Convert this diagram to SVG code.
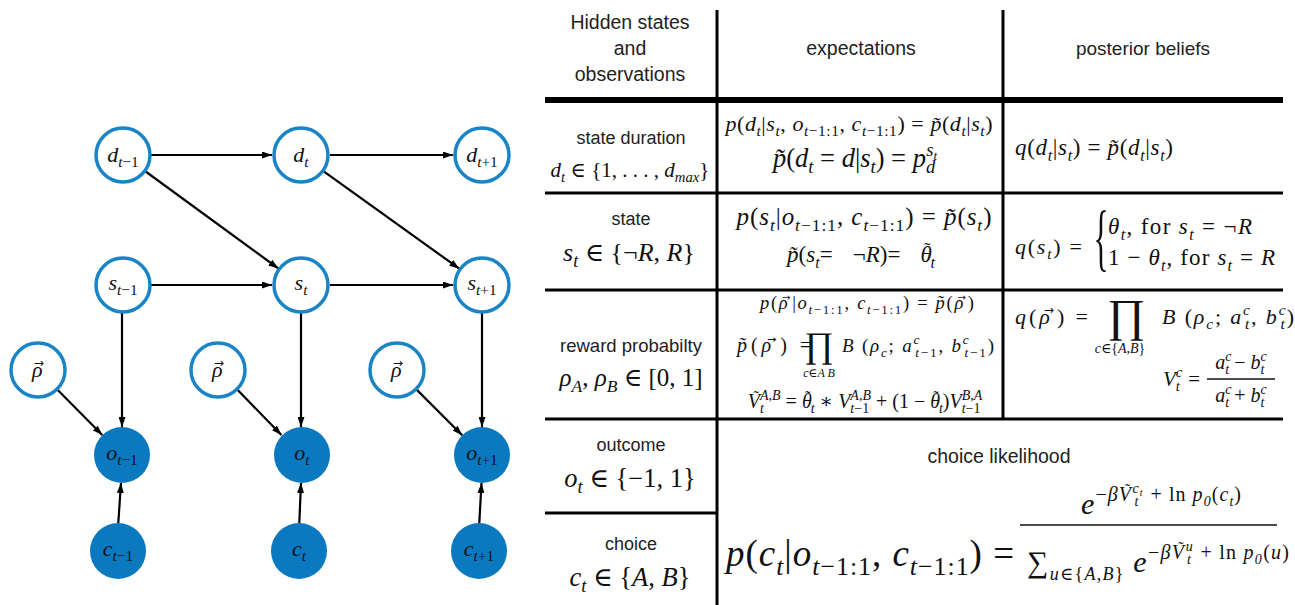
<svg xmlns="http://www.w3.org/2000/svg" width="1295" height="605" viewBox="0 0 1295 605">
<style>
.bg{fill:#fff}
.open{fill:#fff;stroke:#1a85c6;stroke-width:3.5}
.filled{fill:#0a79c0}
.edge{stroke:#000;stroke-width:2.2;fill:none;marker-end:url(#ah)}
.nl{font-family:"Liberation Serif","DejaVu Serif",serif;font-style:italic;font-size:22px;fill:#111;text-anchor:middle}
.m{font-family:"Liberation Serif","DejaVu Serif",serif;font-style:italic;fill:#111}
.u{font-style:normal}
.sb{font-size:70%;baseline-shift:-0.35em}
.sp{font-size:70%;baseline-shift:0.6em}
.ar{font-family:"DejaVu Sans",sans-serif;font-style:normal;font-size:55%;baseline-shift:0.8em}
.tl{font-family:"Liberation Serif",serif;font-style:normal;font-size:80%;baseline-shift:0.35em}
.s{font-family:"Liberation Sans",Arial,sans-serif;fill:#222;text-anchor:middle}
.grid{stroke:#000;stroke-width:3;fill:none}
.thick{stroke:#000;stroke-width:6;fill:none}
.mid{text-anchor:middle}
</style>
<defs>
<marker id="ah" markerUnits="userSpaceOnUse" viewBox="0 0 10 7" refX="10" refY="3.5" markerWidth="10" markerHeight="7" orient="auto">
<path d="M0,0 L10,3.5 L0,7 z" fill="#000"/>
</marker>
</defs>
<rect class="bg" x="0" y="0" width="1295" height="605"/>

<g id="connectors">
<line class="edge" x1="151" y1="155" x2="272" y2="155"/>
<line class="edge" x1="330" y1="155" x2="453" y2="155"/>
<line class="edge" x1="151" y1="285" x2="272" y2="285"/>
<line class="edge" x1="330" y1="285" x2="453" y2="285"/>
<line class="edge" x1="145.6" y1="171.5" x2="278.4" y2="268.5"/>
<line class="edge" x1="323.7" y1="171.3" x2="459.3" y2="268.7"/>
<line class="edge" x1="122" y1="313" x2="122" y2="427"/>
<line class="edge" x1="301" y1="313" x2="301" y2="427"/>
<line class="edge" x1="482" y1="313" x2="482" y2="427"/>
<line class="edge" x1="57" y1="389.2" x2="102.3" y2="435.1"/>
<line class="edge" x1="237" y1="389.2" x2="281.4" y2="435"/>
<line class="edge" x1="416.1" y1="389.1" x2="462.2" y2="435.2"/>
<line class="edge" x1="118.3" y1="523" x2="121" y2="483"/>
<line class="edge" x1="299.3" y1="523" x2="301" y2="483"/>
<line class="edge" x1="479.3" y1="523" x2="481.5" y2="483"/>
</g>

<g id="n_d_tm1"><circle class="open" cx="123" cy="155" r="27"/><text class="nl" x="123" y="162">d<tspan class="sb">t<tspan class="u">−1</tspan></tspan></text></g>
<g id="n_d_t"><circle class="open" cx="301" cy="155" r="27"/><text class="nl" x="301" y="162">d<tspan class="sb">t</tspan></text></g>
<g id="n_d_tp1"><circle class="open" cx="482" cy="155" r="27"/><text class="nl" x="482" y="162">d<tspan class="sb">t<tspan class="u">+1</tspan></tspan></text></g>
<g id="n_s_tm1"><circle class="open" cx="123" cy="285" r="27"/><text class="nl" x="123" y="290">s<tspan class="sb">t<tspan class="u">−1</tspan></tspan></text></g>
<g id="n_s_t"><circle class="open" cx="301" cy="285" r="27"/><text class="nl" x="301" y="290">s<tspan class="sb">t</tspan></text></g>
<g id="n_s_tp1"><circle class="open" cx="482" cy="285" r="27"/><text class="nl" x="482" y="290">s<tspan class="sb">t<tspan class="u">+1</tspan></tspan></text></g>
<g id="n_rho1"><circle class="open" cx="38" cy="370" r="27"/><text class="nl" x="38" y="377">ρ<tspan class="ar" dx="-8.8">→</tspan></text></g>
<g id="n_rho2"><circle class="open" cx="218" cy="370" r="27"/><text class="nl" x="218" y="377">ρ<tspan class="ar" dx="-8.8">→</tspan></text></g>
<g id="n_rho3"><circle class="open" cx="397" cy="370" r="27"/><text class="nl" x="397" y="377">ρ<tspan class="ar" dx="-8.8">→</tspan></text></g>
<g id="n_o_tm1"><circle class="filled" cx="122" cy="455" r="28"/><text class="nl" x="122" y="460">o<tspan class="sb">t<tspan class="u">−1</tspan></tspan></text></g>
<g id="n_o_t"><circle class="filled" cx="302" cy="455" r="28"/><text class="nl" x="302" y="460">o<tspan class="sb">t</tspan></text></g>
<g id="n_o_tp1"><circle class="filled" cx="482" cy="455" r="28"/><text class="nl" x="482" y="460">o<tspan class="sb">t<tspan class="u">+1</tspan></tspan></text></g>
<g id="n_c_tm1"><circle class="filled" cx="118" cy="551" r="28"/><text class="nl" x="118" y="556">c<tspan class="sb">t<tspan class="u">−1</tspan></tspan></text></g>
<g id="n_c_t"><circle class="filled" cx="299" cy="551" r="28"/><text class="nl" x="299" y="556">c<tspan class="sb">t</tspan></text></g>
<g id="n_c_tp1"><circle class="filled" cx="479" cy="551" r="28"/><text class="nl" x="479" y="556">c<tspan class="sb">t<tspan class="u">+1</tspan></tspan></text></g>

<g id="table">
<line class="grid" x1="717" y1="10" x2="717" y2="605"/>
<line class="grid" x1="1003" y1="10" x2="1003" y2="419"/>
<line class="thick" x1="545" y1="100" x2="1283" y2="100"/>
<line class="grid" x1="545" y1="193" x2="1283" y2="193"/>
<line class="grid" x1="545" y1="290" x2="1283" y2="290"/>
<line class="grid" x1="545" y1="419" x2="1283" y2="419"/>
<line class="grid" x1="545" y1="513" x2="717" y2="513"/>
</g>

<g id="header">
<text class="s" x="630" y="29" font-size="19.5">Hidden states</text>
<text class="s" x="630" y="55" font-size="19.5">and</text>
<text class="s" x="630" y="81" font-size="19.5">observations</text>
<text class="s" x="861" y="55" font-size="19.5">expectations</text>
<text class="s" x="1143" y="55" font-size="19">posterior beliefs</text>
</g>

<g id="row_duration">
<text class="s" x="631" y="144" font-size="18">state duration</text>
<text class="m mid" x="630" y="177" font-size="21">d<tspan class="sb">t</tspan><tspan class="u"> ∈ {1, . . . , </tspan>d<tspan class="sb">max</tspan><tspan class="u">}</tspan></text>
<text class="m mid" x="859" y="131" font-size="22" textLength="267" lengthAdjust="spacing">p<tspan class="u">(</tspan>d<tspan class="sb">t</tspan><tspan class="u">|</tspan>s<tspan class="sb">t</tspan><tspan class="u">, </tspan>o<tspan class="sb">t<tspan class="u">−1:1</tspan></tspan><tspan class="u">, </tspan>c<tspan class="sb">t<tspan class="u">−1:1</tspan></tspan><tspan class="u">) = </tspan>p̃<tspan class="u">(</tspan>d<tspan class="sb">t</tspan><tspan class="u">|</tspan>s<tspan class="sb">t</tspan><tspan class="u">)</tspan></text>
<text class="m mid" x="855" y="167" font-size="26.5">p̃<tspan class="u">(</tspan>d<tspan class="sb">t</tspan><tspan class="u"> = </tspan>d<tspan class="u">|</tspan>s<tspan class="sb">t</tspan><tspan class="u">) = </tspan>p<tspan class="sb">d</tspan><tspan class="sp" dx="-9">s<tspan class="sb">t</tspan></tspan></text>
<text class="m" x="1015" y="155" font-size="23" textLength="158" lengthAdjust="spacing">q<tspan class="u">(</tspan>d<tspan class="sb">t</tspan><tspan class="u">|</tspan>s<tspan class="sb">t</tspan><tspan class="u">) = </tspan>p̃<tspan class="u">(</tspan>d<tspan class="sb">t</tspan><tspan class="u">|</tspan>s<tspan class="sb">t</tspan><tspan class="u">)</tspan></text>
</g>

<g id="row_state">
<text class="s" x="631" y="225" font-size="18">state</text>
<text class="m mid" x="629" y="261" font-size="26">s<tspan class="sb">t</tspan><tspan class="u"> ∈ {¬</tspan>R<tspan class="u">, </tspan>R<tspan class="u">}</tspan></text>
<text class="m mid" x="864" y="225" font-size="25" textLength="255" lengthAdjust="spacing">p<tspan class="u">(</tspan>s<tspan class="sb">t</tspan><tspan class="u">|</tspan>o<tspan class="sb">t<tspan class="u">−1:1</tspan></tspan><tspan class="u">, </tspan>c<tspan class="sb">t<tspan class="u">−1:1</tspan></tspan><tspan class="u">) = </tspan>p̃<tspan class="u">(</tspan>s<tspan class="sb">t</tspan><tspan class="u">)</tspan></text>
<text class="m mid" x="861" y="262" font-size="23">p̃<tspan class="u">(</tspan>s<tspan class="sb">t</tspan><tspan class="u">=</tspan><tspan class="u" dx="20">¬</tspan>R<tspan class="u">)=</tspan><tspan dx="20">θ</tspan><tspan class="tl" dx="-7.4">˜</tspan><tspan class="sb">t</tspan></text>
<text class="m" x="1015" y="254" font-size="22" textLength="67" lengthAdjust="spacing">q<tspan class="u">(</tspan>s<tspan class="sb">t</tspan><tspan class="u">) =</tspan></text>
<text class="m u" transform="translate(1101,262) scale(0.42,1)" font-size="75" text-anchor="middle" style="font-style:normal">{</text>
<text class="m" x="1108" y="234" font-size="23" textLength="144" lengthAdjust="spacing">θ<tspan class="sb">t</tspan><tspan class="u">, for </tspan>s<tspan class="sb">t</tspan><tspan class="u"> = ¬</tspan>R</text>
<text class="m" x="1108" y="265" font-size="23" textLength="167" lengthAdjust="spacing"><tspan class="u">1 − </tspan>θ<tspan class="sb">t</tspan><tspan class="u">, for </tspan>s<tspan class="sb">t</tspan><tspan class="u"> = </tspan>R</text>
</g>

<g id="row_reward">
<text class="s" x="631" y="352" font-size="18.5">reward probabilty</text>
<text class="m mid" x="631" y="386" font-size="25">ρ<tspan class="sb">A</tspan><tspan class="u">, </tspan>ρ<tspan class="sb">B</tspan><tspan class="u"> ∈ [0, 1]</tspan></text>
<text class="m mid" x="867" y="309" font-size="18.5" textLength="214" lengthAdjust="spacing">p<tspan class="u">(</tspan>ρ<tspan class="ar" dx="-7.4">→</tspan><tspan class="u">|</tspan>o<tspan class="sb">t<tspan class="u">−1:1</tspan></tspan><tspan class="u">, </tspan>c<tspan class="sb">t<tspan class="u">−1:1</tspan></tspan><tspan class="u">) = </tspan>p̃<tspan class="u">(</tspan>ρ<tspan class="ar" dx="-7.4">→</tspan><tspan class="u">)</tspan></text>
<text class="m" x="737" y="352" font-size="20" textLength="74" lengthAdjust="spacing">p̃<tspan class="u">(</tspan>ρ<tspan class="ar" dx="-8">→</tspan><tspan class="u">) =</tspan></text>
<text class="m u" x="819" y="357" font-size="36" text-anchor="middle" style="font-style:normal">∏</text>
<text class="m mid" x="819" y="377" font-size="12">c<tspan class="u">∈</tspan>A  B</text>
<text class="m" x="842" y="352" font-size="19" textLength="152" lengthAdjust="spacing">B <tspan class="u">(</tspan>ρ<tspan class="sb">c</tspan><tspan class="u">; </tspan>a<tspan class="sp">c</tspan><tspan class="sb" dx="-5.9">t<tspan class="u">−1</tspan></tspan><tspan class="u">, </tspan>b<tspan class="sp">c</tspan><tspan class="sb" dx="-5.9">t<tspan class="u">−1</tspan></tspan><tspan class="u">)</tspan></text>
<text class="m mid" x="865" y="408" font-size="20">V<tspan class="tl" dx="-6.2">˜</tspan><tspan class="sb" dx="1">t</tspan><tspan class="sp" dx="-3.9">A,B</tspan><tspan class="u"> = </tspan>θ<tspan class="tl" dx="-6.4">˜</tspan><tspan class="sb">t</tspan><tspan class="u"> ∗ </tspan>V<tspan class="sb">t<tspan class="u">−1</tspan></tspan><tspan class="sp" dx="-18.8">A,B</tspan><tspan class="u"> + (1 − </tspan>θ<tspan class="tl" dx="-6.4">˜</tspan><tspan class="sb">t</tspan><tspan class="u">)</tspan>V<tspan class="sb">t<tspan class="u">−1</tspan></tspan><tspan class="sp" dx="-18.8">B,A</tspan></text>
<text class="m" x="1015" y="324" font-size="22" textLength="73" lengthAdjust="spacing">q<tspan class="u">(</tspan>ρ<tspan class="ar" dx="-8.8">→</tspan><tspan class="u">) =</tspan></text>
<text class="m u" x="1126" y="331" font-size="46" text-anchor="middle" style="font-style:normal">∏</text>
<text class="m mid" x="1120" y="353" font-size="14">c<tspan class="u">∈{</tspan>A<tspan class="u">,</tspan>B<tspan class="u">}</tspan></text>
<text class="m" x="1162" y="324" font-size="22" textLength="132" lengthAdjust="spacing">B <tspan class="u">(</tspan>ρ<tspan class="sb">c</tspan><tspan class="u">; </tspan>a<tspan class="sp">c</tspan><tspan class="sb" dx="-6.8">t</tspan><tspan class="u">, </tspan>b<tspan class="sp">c</tspan><tspan class="sb" dx="-6.8">t</tspan><tspan class="u">)</tspan></text>
<text class="m" x="1200" y="386" font-size="21" text-anchor="end">V<tspan class="sp">c</tspan><tspan class="sb" dx="-6.5">t</tspan><tspan class="u" dx="3"> =</tspan></text>
<text class="m mid" x="1241" y="369" font-size="20">a<tspan class="sp">c</tspan><tspan class="sb" dx="-6.2">t</tspan><tspan class="u"> − </tspan>b<tspan class="sp">c</tspan><tspan class="sb" dx="-6.2">t</tspan></text>
<line x1="1207" y1="379" x2="1275" y2="379" stroke="#111" stroke-width="1.3"/>
<text class="m mid" x="1241" y="402" font-size="20">a<tspan class="sp">c</tspan><tspan class="sb" dx="-6.2">t</tspan><tspan class="u"> + </tspan>b<tspan class="sp">c</tspan><tspan class="sb" dx="-6.2">t</tspan></text>
</g>

<g id="row_outcome_choice">
<text class="s" x="631" y="451" font-size="18">outcome</text>
<text class="m mid" x="630" y="487" font-size="26.5">o<tspan class="sb">t</tspan><tspan class="u"> ∈ {−1, 1}</tspan></text>
<text class="s" x="631" y="550" font-size="18">choice</text>
<text class="m mid" x="630" y="586" font-size="26.5">c<tspan class="sb">t</tspan><tspan class="u"> ∈ {</tspan>A<tspan class="u">, </tspan>B<tspan class="u">}</tspan></text>
<text class="s" x="999" y="463" font-size="19.5">choice likelihood</text>
<text class="m" x="726" y="566" font-size="37" textLength="288" lengthAdjust="spacing">p<tspan class="u">(</tspan>c<tspan class="sb">t</tspan><tspan class="u">|</tspan>o<tspan class="sb">t<tspan class="u">−1:1</tspan></tspan><tspan class="u">, </tspan>c<tspan class="sb">t<tspan class="u">−1:1</tspan></tspan><tspan class="u">) =</tspan></text>
<text class="m mid" x="1161" y="514" font-size="30" textLength="160" lengthAdjust="spacing">e<tspan font-size="20" baseline-shift="13"><tspan class="u">−</tspan>βV<tspan class="tl" dx="-7">˜</tspan><tspan class="sp" dx="1">c<tspan class="sb">t</tspan></tspan><tspan class="sb" dx="-8.9">t</tspan><tspan class="u" dx="5"> + ln </tspan>p<tspan class="sb">0</tspan><tspan class="u">(</tspan>c<tspan class="sb">t</tspan><tspan class="u">)</tspan></tspan></text>
<line x1="1020" y1="525" x2="1277" y2="525" stroke="#111" stroke-width="1.6"/>
<text class="m" x="1027" y="572" font-size="30" textLength="262" lengthAdjust="spacing"><tspan class="u">∑</tspan><tspan font-size="18" baseline-shift="-8">u<tspan class="u">∈{</tspan>A<tspan class="u">,</tspan>B<tspan class="u">}</tspan></tspan> e<tspan font-size="20" baseline-shift="13"><tspan class="u">−</tspan>βV<tspan class="tl" dx="-7">˜</tspan><tspan class="sp" dx="1">u</tspan><tspan class="sb" dx="-7">t</tspan><tspan class="u" dx="2"> + ln </tspan>p<tspan class="sb">0</tspan><tspan class="u">(</tspan>u<tspan class="u">)</tspan></tspan></text>
</g>
</svg>
